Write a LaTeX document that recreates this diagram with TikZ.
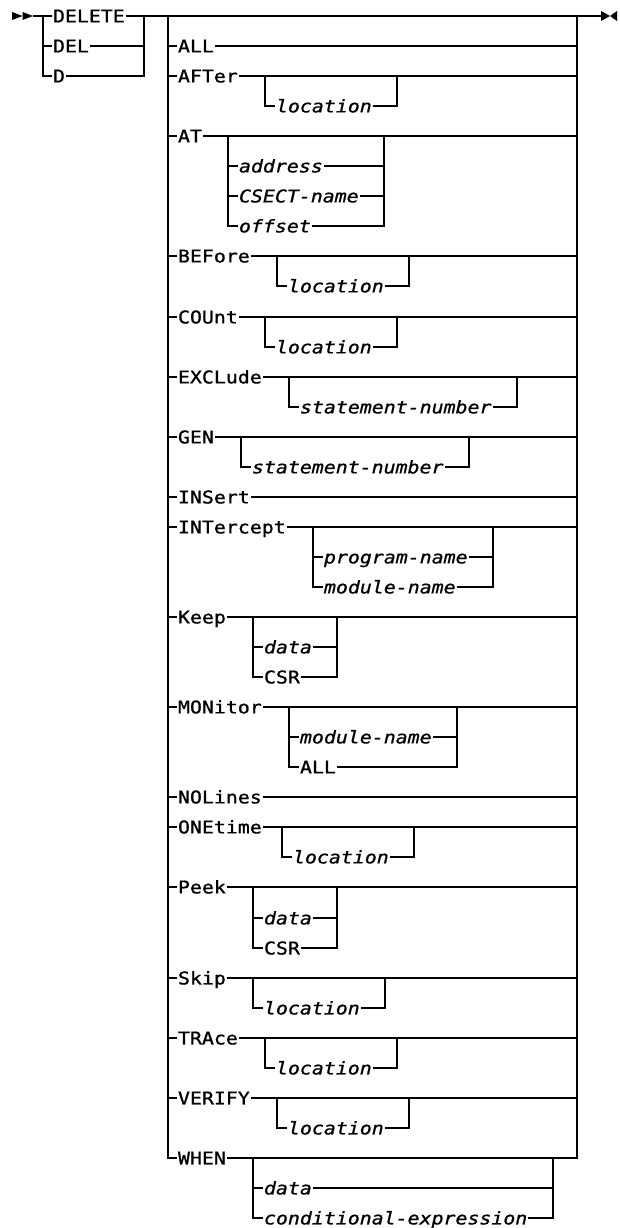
\documentclass[tikz,border=0pt]{standalone}
\usepackage{fontspec}
\newfontfamily\synfont{DejaVu Sans Mono}[FakeStretch=1.136, FakeBold=1.0]
\usetikzlibrary{calc}
\tikzset{
  every picture/.style={line width=2pt, x=1pt, y=-1pt},
  kw/.style={anchor=west, inner sep=0pt, text height=12.8pt, text depth=0pt,
    font=\synfont\fontsize{17.5}{20}\selectfont},
  var/.style={kw, font=\synfont\fontsize{17.5}{20}\selectfont\itshape},
}

\begin{document}
\begin{tikzpicture}
  \useasboundingbox (0,0) rectangle (619,1228);
  % start and end marks
  \fill (12,12) -- (22.5,16) -- (12,20) -- cycle;
  \fill (22.5,12) -- (33,16) -- (22.5,20) -- cycle;
  \fill (601,11) -- (610,16) -- (601,21) -- cycle;
  \fill (617,11) -- (610,16) -- (617,21) -- cycle;
  \coordinate (start) at (33,16);
  \coordinate (split) at (43,16);
  \coordinate (join) at (144,16);
  \coordinate (railL) at (168,16);
  \coordinate (railR) at (577,16);
  \coordinate (stop) at (601,16);

  % command name
  \node[kw] (delete) at (52,16) {DELETE};
  \node[kw] (del) at (52,46) {DEL};
  \node[kw] (d) at (52,76) {D};
  \draw (start) -- (delete.west);
  \draw (delete.east) -- (stop);
  \draw (split |- del) -- (del.west) (del.east) -- (join |- del);
  \draw (split) |- (d.west) (d.east) -| (join);

  % operands
  \node[kw] (all) at (177,46) {ALL};
  \node[kw] (after) at (177,76) {AFTer};
  \node[kw] (at) at (177,136) {AT};
  \node[kw] (before) at (177,256) {BEFore};
  \node[kw] (count) at (177,317) {COUnt};
  \node[kw] (exclude) at (177,377) {EXCLude};
  \node[kw] (gen) at (177,437) {GEN};
  \node[kw] (insert) at (177,497) {INSert};
  \node[kw] (intercept) at (177,527) {INTercept};
  \node[kw] (keep) at (177,617) {Keep};
  \node[kw] (monitor) at (177,707) {MONitor};
  \node[kw] (nolines) at (177,797) {NOLines};
  \node[kw] (onetime) at (177,827) {ONEtime};
  \node[kw] (peek) at (177,887) {Peek};
  \node[kw] (skip) at (177,978) {Skip};
  \node[kw] (trace) at (177,1038) {TRAce};
  \node[kw] (verify) at (177,1098) {VERIFY};
  \node[kw] (when) at (177,1158) {WHEN};
  \draw (railL |- all) -- (all.west) (all.east) -- (railR |- all);
  \draw (railL |- after) -- (after.west) (after.east) -- (railR |- after);
  \draw (railL |- at) -- (at.west) (at.east) -- (railR |- at);
  \draw (railL |- before) -- (before.west) (before.east) -- (railR |- before);
  \draw (railL |- count) -- (count.west) (count.east) -- (railR |- count);
  \draw (railL |- exclude) -- (exclude.west) (exclude.east) -- (railR |- exclude);
  \draw (railL |- gen) -- (gen.west) (gen.east) -- (railR |- gen);
  \draw (railL |- insert) -- (insert.west) (insert.east) -- (railR |- insert);
  \draw (railL |- intercept) -- (intercept.west) (intercept.east) -- (railR |- intercept);
  \draw (railL |- keep) -- (keep.west) (keep.east) -- (railR |- keep);
  \draw (railL |- monitor) -- (monitor.west) (monitor.east) -- (railR |- monitor);
  \draw (railL |- nolines) -- (nolines.west) (nolines.east) -- (railR |- nolines);
  \draw (railL |- onetime) -- (onetime.west) (onetime.east) -- (railR |- onetime);
  \draw (railL |- peek) -- (peek.west) (peek.east) -- (railR |- peek);
  \draw (railL |- skip) -- (skip.west) (skip.east) -- (railR |- skip);
  \draw (railL |- trace) -- (trace.west) (trace.east) -- (railR |- trace);
  \draw (railL |- verify) -- (verify.west) (verify.east) -- (railR |- verify);
  \draw (railL) |- (when.west) (when.east) -| (railR);

  % AFTer
  \coordinate (afterV) at (265,76);
  \coordinate (afterC) at (397,76);
  \node[var] (afterloc) at (275,106) {location};
  \draw (afterV) |- (afterloc.west) (afterloc.east) -| (afterC);

  % AT
  \coordinate (atV) at (228,136);
  \coordinate (atC) at (384,136);
  \node[var] (ataddr) at (238,166) {address};
  \node[var] (atcsect) at (238,196) {CSECT-name};
  \node[var] (atoff) at (238,226) {offset};
  \draw (atV |- ataddr) -- (ataddr.west) (ataddr.east) -- (atC |- ataddr);
  \draw (atV |- atcsect) -- (atcsect.west) (atcsect.east) -- (atC |- atcsect);
  \draw (atV) |- (atoff.west) (atoff.east) -| (atC);

  % BEFore
  \coordinate (beforeV) at (277,256);
  \coordinate (beforeC) at (409,256);
  \node[var] (beforeloc) at (287,286) {location};
  \draw (beforeV) |- (beforeloc.west) (beforeloc.east) -| (beforeC);

  % COUnt
  \coordinate (countV) at (265,317);
  \coordinate (countC) at (397,317);
  \node[var] (countloc) at (275,347) {location};
  \draw (countV) |- (countloc.west) (countloc.east) -| (countC);

  % EXCLude
  \coordinate (excludeV) at (289,377);
  \coordinate (excludeC) at (517,377);
  \node[var] (excludenum) at (299,407) {statement-number};
  \draw (excludeV) |- (excludenum.west) (excludenum.east) -| (excludeC);

  % GEN
  \coordinate (genV) at (241,437);
  \coordinate (genC) at (469,437);
  \node[var] (gennum) at (251,467) {statement-number};
  \draw (genV) |- (gennum.west) (gennum.east) -| (genC);

  % INTercept
  \coordinate (intV) at (313,527);
  \coordinate (intC) at (493,527);
  \node[var] (intprog) at (323,557) {program-name};
  \node[var] (intmod) at (323,587) {module-name};
  \draw (intV |- intprog) -- (intprog.west) (intprog.east) -- (intC |- intprog);
  \draw (intV) |- (intmod.west) (intmod.east) -| (intC);

  % Keep
  \coordinate (keepV) at (253,617);
  \coordinate (keepC) at (337,617);
  \node[var] (keepdata) at (263,647) {data};
  \node[kw] (keepcsr) at (263,677) {CSR};
  \draw (keepV |- keepdata) -- (keepdata.west) (keepdata.east) -- (keepC |- keepdata);
  \draw (keepV) |- (keepcsr.west) (keepcsr.east) -| (keepC);

  % MONitor
  \coordinate (monV) at (289,707);
  \coordinate (monC) at (457,707);
  \node[var] (monmod) at (299,737) {module-name};
  \node[kw] (monall) at (299,767) {ALL};
  \draw (monV |- monmod) -- (monmod.west) (monmod.east) -- (monC |- monmod);
  \draw (monV) |- (monall.west) (monall.east) -| (monC);

  % ONEtime
  \coordinate (onetimeV) at (282,827);
  \coordinate (onetimeC) at (414,827);
  \node[var] (onetimeloc) at (292,857) {location};
  \draw (onetimeV) |- (onetimeloc.west) (onetimeloc.east) -| (onetimeC);

  % Peek
  \coordinate (peekV) at (253,887);
  \coordinate (peekC) at (337,887);
  \node[var] (peekdata) at (263,918) {data};
  \node[kw] (peekcsr) at (263,948) {CSR};
  \draw (peekV |- peekdata) -- (peekdata.west) (peekdata.east) -- (peekC |- peekdata);
  \draw (peekV) |- (peekcsr.west) (peekcsr.east) -| (peekC);

  % Skip
  \coordinate (skipV) at (253,978);
  \coordinate (skipC) at (385,978);
  \node[var] (skiploc) at (263,1008) {location};
  \draw (skipV) |- (skiploc.west) (skiploc.east) -| (skipC);

  % TRAce
  \coordinate (traceV) at (265,1038);
  \coordinate (traceC) at (397,1038);
  \node[var] (traceloc) at (275,1068) {location};
  \draw (traceV) |- (traceloc.west) (traceloc.east) -| (traceC);

  % VERIFY
  \coordinate (verifyV) at (277,1098);
  \coordinate (verifyC) at (409,1098);
  \node[var] (verifyloc) at (287,1128) {location};
  \draw (verifyV) |- (verifyloc.west) (verifyloc.east) -| (verifyC);

  % WHEN
  \coordinate (whenV) at (253,1158);
  \coordinate (whenC) at (553,1158);
  \node[var] (whendata) at (263,1188) {data};
  \node[var] (whencond) at (263,1218) {conditional-expression};
  \draw (whenV |- whendata) -- (whendata.west) (whendata.east) -- (whenC |- whendata);
  \draw (whenV) |- (whencond.west) (whencond.east) -| (whenC);
\end{tikzpicture}
\end{document}
